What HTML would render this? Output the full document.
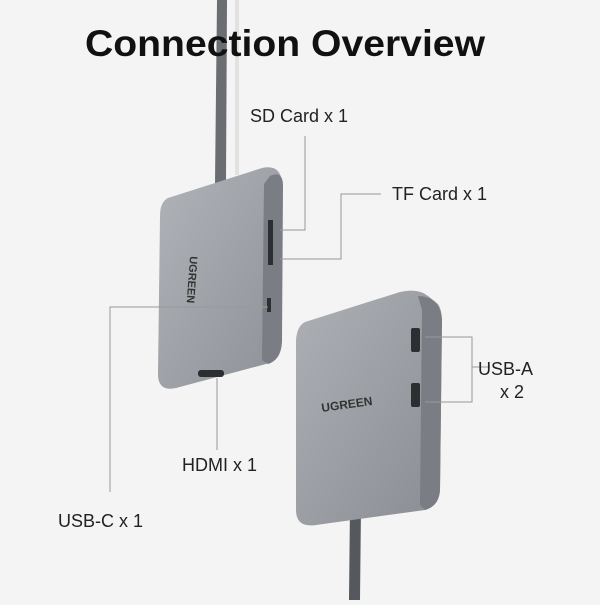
<!DOCTYPE html>
<html><head><style>
body{margin:0;width:600px;height:600px;background:#f4f4f4;overflow:hidden;font-family:"Liberation Sans",sans-serif}
</style></head><body>
<svg width="600" height="600" xmlns="http://www.w3.org/2000/svg">
<defs>
<linearGradient id="g1" x1="0" y1="0" x2="1" y2="1"><stop offset="0" stop-color="#b0b3b8"/><stop offset="1" stop-color="#8e9197"/></linearGradient>
<linearGradient id="g2" x1="0" y1="0" x2="1" y2="1"><stop offset="0" stop-color="#adb0b5"/><stop offset="1" stop-color="#8a8d93"/></linearGradient>
</defs>
<rect width="600" height="600" fill="#f4f4f4"/>
<!-- cable 1 -->
<path d="M217 0 L227 0 L226 182 L215 184 Z" fill="#6a6d71"/>
<rect x="235" y="0" width="4" height="175" fill="#e2e2e2"/>
<text x="85" y="56" font-size="37" font-weight="bold" fill="#111" textLength="400" lengthAdjust="spacingAndGlyphs">Connection Overview</text>
<!-- device 1 -->
<path d="M168 198 L262 168 Q280 164 282 182 L281 342 Q280 360 266 364 L176 388 Q158 392 158 374 L160 216 Q160 202 168 198 Z" fill="url(#g1)"/>
<path d="M270 176 Q283 170 283 186 L282 342 Q281 360 268 364 L262 360 L264 184 Z" fill="#7a7e84"/>
<rect x="268" y="220" width="5" height="45" fill="#2c2e31"/>
<rect x="267" y="298" width="4" height="14" fill="#2c2e31"/>
<rect x="198" y="370" width="26" height="7" rx="3" fill="#2c2e31"/>
<text x="0" y="0" font-size="11" font-weight="bold" fill="#333" transform="translate(190,256) rotate(94)">UGREEN</text>
<!-- cable 2 -->
<path d="M350 505 L361 505 L360 600 L349 600 Z" fill="#55585c"/>
<!-- device 2 -->
<path d="M305 322 L400 292 Q418 288 428 296 L438 304 Q442 310 442 322 L440 490 Q439 506 425 510 L316 525 Q296 528 296 510 L296 340 Q297 326 305 322 Z" fill="url(#g2)"/>
<path d="M418 296 Q440 296 442 320 L440 490 Q439 506 425 510 L420 505 L422 310 Z" fill="#7a7d83"/>
<rect x="411" y="328" width="9" height="24" rx="2" fill="#2c2e31"/>
<rect x="411" y="383" width="9" height="24" rx="2" fill="#2c2e31"/>
<text x="0" y="0" font-size="12" font-weight="bold" fill="#333" transform="translate(322,412) rotate(-8)">UGREEN</text>
<!-- leader lines -->
<g stroke="#999" stroke-width="1" fill="none">
<polyline points="305,136 305,230 280,230"/>
<polyline points="381,194 341,194 341,259 280,259"/>
<polyline points="268,307 110,307 110,492"/>
<polyline points="217,378 217,450"/>
<polyline points="425,337 472,337 472,402 425,402"/>
<polyline points="472,367 490,367"/>
</g>
<g font-size="18" fill="#222">
<text x="250" y="122">SD Card x 1</text>
<text x="392" y="200">TF Card x 1</text>
<text x="478" y="375">USB-A</text>
<text x="500" y="398">x 2</text>
<text x="182" y="471">HDMI x 1</text>
<text x="58" y="527">USB-C x 1</text>
</g>
</svg>
</body></html>
